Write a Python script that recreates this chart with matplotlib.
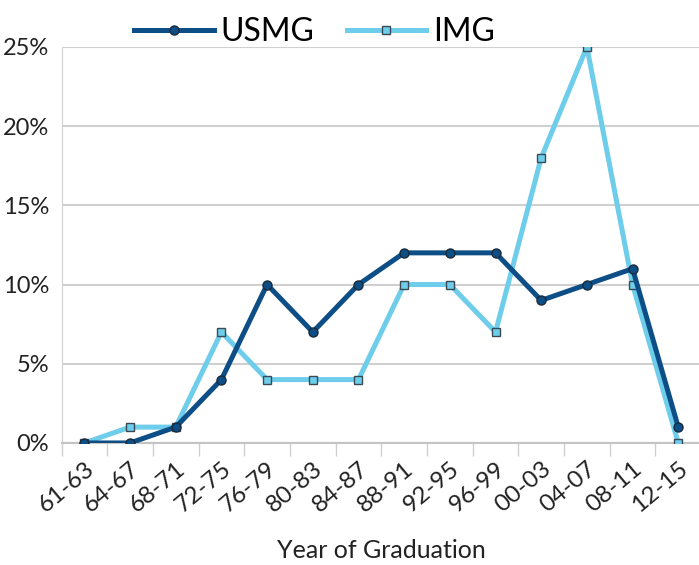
import numpy as np
import matplotlib.pyplot as plt
from matplotlib.ticker import PercentFormatter

# Data
periods = ['61-63', '64-67', '68-71', '72-75', '76-79', '80-83', '84-87',
           '88-91', '92-95', '96-99', '00-03', '04-07', '08-11', '12-15']
usmg = [0, 0, 1, 4, 10, 7, 10, 12, 12, 12, 9, 10, 11, 1]
img = [0, 1, 1, 7, 4, 4, 4, 10, 10, 7, 18, 25, 10, 0]

plt.rcParams['font.family'] = ['Lato', 'DejaVu Sans']

fig = plt.figure(figsize = (6.99, 5.65), dpi = 100)
ax = fig.add_axes([0.088, 0.216, 0.915, 0.701])

x = np.arange(len(periods))
ax.plot(x, usmg, color = '#0c4e85', lw = 3.6, marker = 'o', ms = 6.5,
        mfc = '#0c4e85', mec = '#1a2a3a', mew = 1, label = 'USMG', zorder = 4)
ax.plot(x, img, color = '#6dcdea', lw = 3.6, marker = 's', ms = 5.5,
        mfc = '#6dcdea', mec = '#3a4a55', mew = 1, label = 'IMG', zorder = 3)

ax.set_xlim(-0.5, len(periods) - 0.5)
ax.set_ylim(0, 25)
ax.set_yticks(np.arange(0, 26, 5))
ax.yaxis.set_major_formatter(PercentFormatter(decimals = 0))
ax.grid(axis = 'y', color = '#d0d0d0', lw = 1.5)
ax.set_axisbelow(True)

ax.set_xticks(x)
ax.set_xticklabels(periods, rotation = 40, ha = 'right', rotation_mode = 'anchor')
ax.set_xticks(np.arange(-0.5, len(periods), 1), minor = True)
ax.tick_params(axis = 'x', which = 'major', length = 0, labelsize = 17.5, pad = 11)
ax.tick_params(axis = 'x', which = 'minor', length = 9, color = '#d0d0d0', width = 1)
ax.tick_params(axis = 'y', length = 0, labelsize = 17, colors = '#222222', pad = 9)
ax.tick_params(axis = 'x', colors = '#222222')
for side in ['top', 'right']:
    ax.spines[side].set_visible(False)
ax.spines['left'].set_color('#d0d0d0')
ax.spines['bottom'].set_color('#c4c4c4')
ax.spines['bottom'].set_linewidth(1.5)

ax.set_xlabel('Year of Graduation', fontsize = 18, color = '#222222', labelpad = 16)

fig.legend(loc = 'upper center', bbox_to_anchor = (0.45, 1.02), ncol = 2,
           frameon = False, fontsize = 23, handlelength = 2.5, columnspacing = 1.0,
           handletextpad = 0.2)

plt.savefig('out.png', dpi = 100)
